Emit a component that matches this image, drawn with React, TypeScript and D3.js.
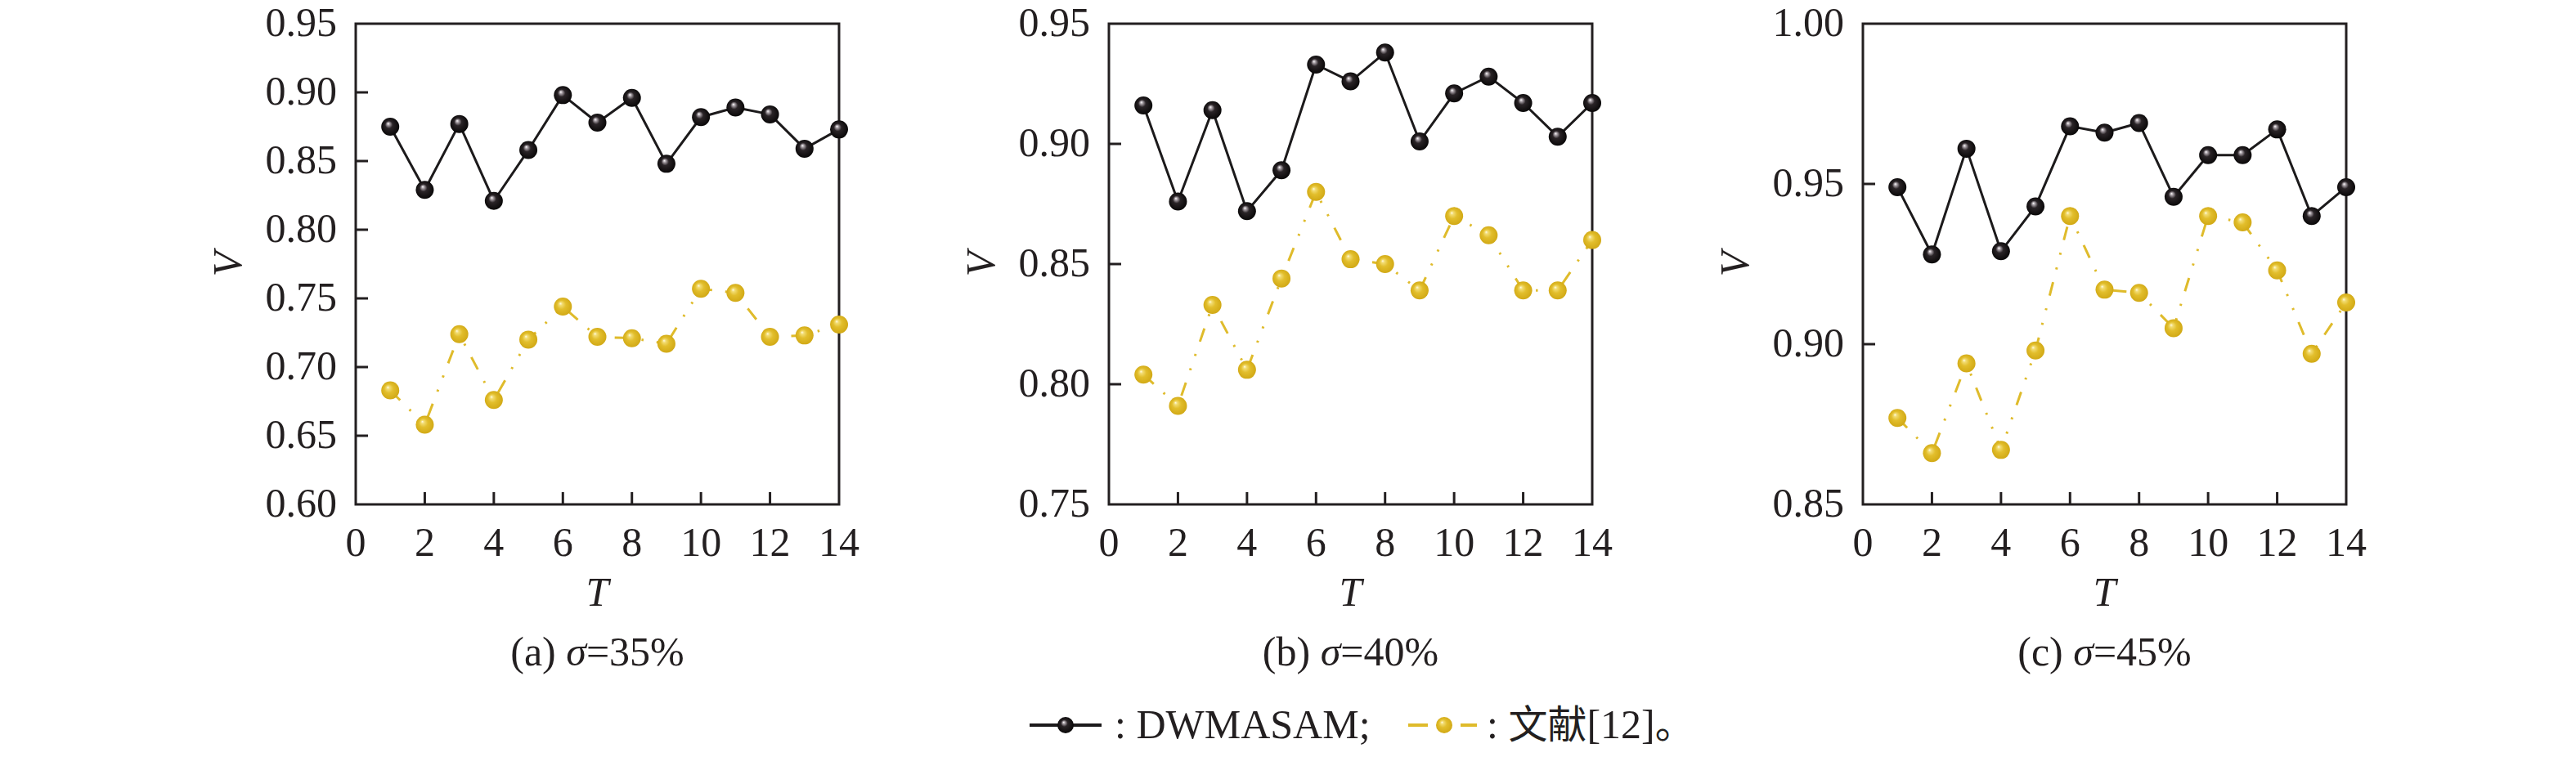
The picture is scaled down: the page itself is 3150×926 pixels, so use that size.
import React from 'react';
import * as d3 from 'd3';

// iteration index T
const tValues = [1, 2, 3, 4, 5, 6, 7, 8, 9, 10, 11, 12, 13, 14];
const xTickLabels = [0, 2, 4, 6, 8, 10, 12, 14];

// DWMASAM (black) and 文献[12] (yellow), one pair per sigma
const dwmasam35 = [0.875, 0.829, 0.877, 0.821, 0.858, 0.898, 0.878, 0.896, 0.848, 0.882, 0.889, 0.884, 0.859, 0.873];
const ref35 = [0.683, 0.658, 0.724, 0.676, 0.720, 0.744, 0.722, 0.721, 0.717, 0.757, 0.754, 0.722, 0.723, 0.731];
const dwmasam40 = [0.916, 0.876, 0.914, 0.872, 0.889, 0.933, 0.926, 0.938, 0.901, 0.921, 0.928, 0.917, 0.903, 0.917];
const ref40 = [0.804, 0.791, 0.833, 0.806, 0.844, 0.880, 0.852, 0.850, 0.839, 0.870, 0.862, 0.839, 0.839, 0.860];
const dwmasam45 = [0.949, 0.928, 0.961, 0.929, 0.943, 0.968, 0.966, 0.969, 0.946, 0.959, 0.959, 0.967, 0.940, 0.949];
const ref45 = [0.877, 0.866, 0.894, 0.867, 0.898, 0.940, 0.917, 0.916, 0.905, 0.940, 0.938, 0.923, 0.897, 0.913];

const captionPrefix = ['(a) ', '(b) ', '(c) '];
const captionSigma = ['=35%', '=40%', '=45%'];
const yDomains = [[0.6, 0.95], [0.75, 0.95], [0.85, 1.0]];
const yTicks = [
  [0.6, 0.65, 0.7, 0.75, 0.8, 0.85, 0.9, 0.95],
  [0.75, 0.8, 0.85, 0.9, 0.95],
  [0.85, 0.9, 0.95, 1.0],
];

const legendLabels = ['DWMASAM;', '文献[12]。'];

const serif = '"Liberation Serif", "Times New Roman", serif';
const cjk = '"Noto Sans CJK SC", sans-serif';
const ink = '#231f20';
const black = '#1c1a1b';
const gold = '#dfbb2b';
const fs = 50;

const seriesBlack = [dwmasam35, dwmasam40, dwmasam45];
const seriesGold = [ref35, ref40, ref45];

const Marker = ({ x, y, kind, r = 11 }) => (
  <circle cx={x} cy={y} r={r} fill={kind === 'black' ? 'url(#ballBlack)' : 'url(#ballGold)'} />
);

const Panel = ({ idx, left }) => {
  const top = 29;
  const bottom = 617;
  const width = 591;
  const x = d3.scaleLinear().domain([0, 14]).range([left, left + width]);
  const y = d3.scaleLinear().domain(yDomains[idx]).range([bottom, top]);
  const line = d3.line<number>().x((d, i) => x(tValues[i])).y(d => y(d));
  const cx = left + width / 2;

  return (
    <g>
      {/* inward ticks */}
      {xTickLabels.filter(t => t > 0 && t < 14).map(t => (
        <line key={'xt' + t} x1={x(t)} x2={x(t)} y1={bottom} y2={bottom - 15} stroke={ink} strokeWidth={3} />
      ))}
      {yTicks[idx].slice(1, -1).map(v => (
        <line key={'yt' + v} x1={left} x2={left + 15} y1={y(v)} y2={y(v)} stroke={ink} strokeWidth={3} />
      ))}
      <rect x={left} y={top} width={width} height={bottom - top} fill="none" stroke={ink} strokeWidth={3} />

      {/* tick labels */}
      {xTickLabels.map(t => (
        <text key={'xl' + t} x={x(t)} y={bottom + 63} textAnchor="middle" fontFamily={serif} fontSize={fs} fill={ink}>
          {t}
        </text>
      ))}
      {yTicks[idx].map(v => (
        <text key={'yl' + v} x={left - 23} y={y(v) + 15} textAnchor="end" fontFamily={serif} fontSize={fs} fill={ink}>
          {v.toFixed(2)}
        </text>
      ))}

      {/* axis titles */}
      <text x={cx} y={741} textAnchor="middle" fontFamily={serif} fontStyle="italic" fontSize={fs} fill={ink}>T</text>
      <text transform={`translate(${left - 140},${(top + bottom) / 2}) rotate(-90)`} textAnchor="middle"
        fontFamily={serif} fontStyle="italic" fontSize={fs} fill={ink}>V</text>
      <text x={cx} y={814} textAnchor="middle" fontFamily={serif} fontSize={fs} fill={ink}>
        {captionPrefix[idx]}
        <tspan fontStyle="italic">σ</tspan>
        {captionSigma[idx]}
      </text>

      {/* series */}
      <path d={line(seriesGold[idx])} fill="none" stroke={gold} strokeWidth={3}
        strokeDasharray="17 16 2.5 16 2.5 16" />
      <path d={line(seriesBlack[idx])} fill="none" stroke={black} strokeWidth={3} strokeLinejoin="round" />
      {seriesGold[idx].map((v, i) => (
        <Marker key={'g' + i} x={x(tValues[i])} y={y(v)} kind="gold" />
      ))}
      {seriesBlack[idx].map((v, i) => (
        <Marker key={'b' + i} x={x(tValues[i])} y={y(v)} kind="black" />
      ))}
    </g>
  );
};

const App = () => {
  const lefts = [435, 1356, 2278];
  const ly = 887;
  return (
    <svg width={3150} height={926} style={{ position: 'absolute', left: 0, top: 0, background: '#fff' }}>
      <defs>
        <radialGradient id="ballBlack" cx="50%" cy="50%" r="55%" fx="38%" fy="32%">
          <stop offset="0%" stopColor="#ffffff" />
          <stop offset="14%" stopColor="#a8a0a6" />
          <stop offset="38%" stopColor="#2a2427" />
          <stop offset="100%" stopColor="#050404" />
        </radialGradient>
        <radialGradient id="ballGold" cx="50%" cy="50%" r="55%" fx="36%" fy="32%">
          <stop offset="0%" stopColor="#fffbe6" />
          <stop offset="16%" stopColor="#f2dc72" />
          <stop offset="45%" stopColor="#e2be2c" />
          <stop offset="100%" stopColor="#cfa612" />
        </radialGradient>
      </defs>
      <rect width={3150} height={926} fill="#fff" />
      {lefts.map((l, i) => (
        <Panel key={i} idx={i} left={l} />
      ))}

      {/* legend */}
      <line x1={1259} x2={1347} y1={ly} y2={ly} stroke={black} strokeWidth={4} />
      <Marker x={1303} y={ly} kind="black" r={10} />
      <text x={1363} y={903} fontFamily={serif} fontSize={fs} fill={ink}>: {legendLabels[0]}</text>
      <line x1={1722} x2={1746} y1={ly} y2={ly} stroke={gold} strokeWidth={4} />
      <line x1={1786} x2={1806} y1={ly} y2={ly} stroke={gold} strokeWidth={4} />
      <Marker x={1766} y={ly} kind="gold" r={10} />
      <text x={1818} y={903} fontFamily={serif} fontSize={fs} fill={ink}>
        {': '}
        <tspan fontFamily={cjk} fontSize={48}>{legendLabels[1].slice(0, 2)}</tspan>
        {legendLabels[1].slice(2, 6)}
        <tspan fontFamily={cjk} fontSize={48}>{legendLabels[1].slice(6)}</tspan>
      </text>
    </svg>
  );
};

export default App;
